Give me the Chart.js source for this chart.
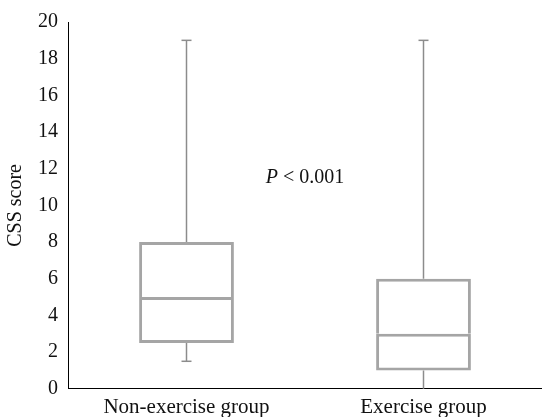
<!DOCTYPE html>
<html>
<head>
<meta charset="utf-8">
<script src="https://cdn.jsdelivr.net/npm/chart.js@4/dist/chart.umd.min.js"></script>
<style>
  html, body { margin: 0; padding: 0; background: #fff; }
  #wrap { width: 542px; height: 417px; }
</style>
</head>
<body>
<div id="wrap"><canvas id="c"></canvas></div>
<script>
// data
const groups = ['Non-exercise group', 'Exercise group'];
const mins    = [1.5, 0];
const q1s     = [2.5, 1];
const medians = [5, 3];
const q3s     = [8, 6];
const maxs    = [19, 19];
const yTicks  = [0, 2, 4, 6, 8, 10, 12, 14, 16, 18, 20];
const pLabel  = { text: '< 0.001', y: 11.5 };

const BOX = '#a5a5a5';
const WHISK = '#8c8c8c';
const FONT = '"Liberation Serif", "DejaVu Serif", serif';

// whiskers, caps and the P label drawn through the chart's scales
const boxExtras = {
  id: 'boxExtras',
  beforeDatasetsDraw(chart){
    const { ctx, scales: { x, y } } = chart;
    ctx.save();
    ctx.strokeStyle = WHISK;
    ctx.lineWidth = 1.5;
    groups.forEach((g, i) => {
      const cx = x.getPixelForValue(i);
      const segs = [[mins[i], q1s[i]], [q3s[i], maxs[i]]];
      segs.forEach(([a, b]) => {
        ctx.beginPath();
        ctx.moveTo(cx, y.getPixelForValue(a));
        ctx.lineTo(cx, y.getPixelForValue(b));
        ctx.stroke();
      });
      [mins[i], maxs[i]].forEach(v => {
        if (v <= y.min) return;
        const py = y.getPixelForValue(v);
        ctx.beginPath();
        ctx.moveTo(cx - 5, py);
        ctx.lineTo(cx + 5, py);
        ctx.stroke();
      });
    });
    ctx.restore();
  },
  afterDatasetsDraw(chart){
    const { ctx, scales: { x, y } } = chart;
    const cx = (x.getPixelForValue(0) + x.getPixelForValue(1)) / 2;
    const py = y.getPixelForValue(pLabel.y);
    ctx.save();
    ctx.fillStyle = '#111';
    ctx.textBaseline = 'middle';
    ctx.font = 'italic 20px ' + FONT;
    const pW = ctx.measureText('P ').width;
    ctx.font = '20px ' + FONT;
    const rW = ctx.measureText(pLabel.text).width;
    const left = cx - (pW + rW) / 2;
    ctx.font = 'italic 20px ' + FONT;
    ctx.fillText('P', left, py);
    ctx.font = '20px ' + FONT;
    ctx.fillText(pLabel.text, left + pW, py);
    ctx.restore();
  }
};

const barCommon = {
  backgroundColor: '#ffffff',
  borderColor: BOX,
  borderSkipped: false,
  grouped: false,
  barPercentage: 0.4,
  categoryPercentage: 1
};

new Chart(document.getElementById('c'), {
  type: 'bar',
  data: {
    labels: groups,
    datasets: [
      Object.assign({ label: 'lower', data: groups.map((g, i) => [q1s[i], medians[i]]),
        borderWidth: 3 }, barCommon),
      Object.assign({ label: 'upper', data: groups.map((g, i) => [medians[i], q3s[i]]),
        borderWidth: { top: 3, left: 3, right: 3, bottom: 0 } }, barCommon)
    ]
  },
  options: {
    responsive: true,
    maintainAspectRatio: false,
    animation: false,
    layout: { padding: { top: 9, right: 0, left: 4, bottom: -9 } },
    plugins: { legend: { display: false }, tooltip: { enabled: false } },
    scales: {
      x: {
        grid: { display: false, drawTicks: false },
        border: { display: true, color: '#000', width: 1 },
        ticks: { color: '#111', padding: 6, font: { family: FONT, size: 21 } }
      },
      y: {
        min: 0, max: 20,
        afterBuildTicks(axis){ axis.ticks = yTicks.map(v => ({ value: v })); },
        grid: { display: false, drawTicks: false },
        border: { display: true, color: '#000', width: 1 },
        ticks: { color: '#111', padding: 10, font: { family: FONT, size: 20 } },
        title: { display: true, text: 'CSS score', color: '#111', padding: { top: 0, bottom: 0 }, font: { family: FONT, size: 20 } }
      }
    }
  },
  plugins: [boxExtras]
});
</script>
</body>
</html>
